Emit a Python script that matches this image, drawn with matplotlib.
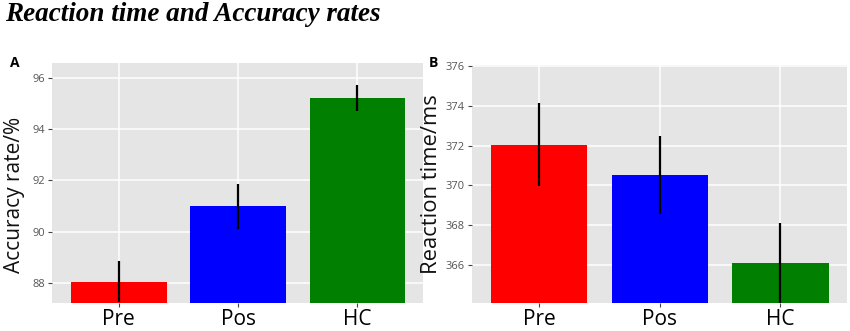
import matplotlib
matplotlib.use("Agg")
import matplotlib.pyplot as plt

groups = ["Pre", "Pos", "HC"]
acc_mean = [88.05, 91.0, 95.2]
acc_err = [0.8, 0.88, 0.51]
rt_mean = [372.05, 370.53, 366.08]
rt_err = [2.1, 1.95, 2.05]
colors = ["#ff0000", "#0000ff", "#007f00"]

plt.rcParams['font.family'] = ['Open Sans', 'DejaVu Sans']

fig = plt.figure(figsize=(8.5, 3.31), dpi=100)
axA = fig.add_axes([0.0612, 0.0846, 0.4364, 0.7251])
axB = fig.add_axes([0.555, 0.0837, 0.441, 0.7199])


def style(ax, ylabel, ylim, yticks):
    ax.set_facecolor("#e5e5e5")
    x = range(len(groups))
    ax.set_xticks(list(x))
    ax.set_xticklabels(groups, fontsize=15, color="black")
    ax.set_yticks(yticks)
    ax.set_yticklabels([str(t) for t in yticks], fontsize=8, color="#555555")
    ax.set_ylim(*ylim)
    ax.set_xlim(-0.56, 2.55)
    ax.set_ylabel(ylabel, fontsize=15, color="#111111", labelpad=3)
    ax.grid(True, color="white", linewidth=1.1)
    ax.set_axisbelow(True)
    for s in ax.spines.values():
        s.set_visible(False)
    ax.tick_params(axis="both", length=3, width=0.8, color="#444444", pad=2)
    ax.tick_params(axis="x", pad=1)


x = list(range(len(groups)))
axA.bar(x, acc_mean, width=0.8, color=colors, zorder=2)
axA.errorbar(x, acc_mean, yerr=acc_err, fmt="none", ecolor="black",
             elinewidth=1.6, capsize=0, zorder=3)
style(axA, "Accuracy rate/%", (87.23, 96.57), [88, 90, 92, 94, 96])
axA.yaxis.set_label_coords(-0.072, 0.45)

axB.bar(x, rt_mean, width=0.8, color=colors, zorder=2)
axB.errorbar(x, rt_mean, yerr=rt_err, fmt="none", ecolor="black",
             elinewidth=1.6, capsize=0, zorder=3)
style(axB, "Reaction time/ms", (364.08, 376.05), [366, 368, 370, 372, 374, 376])
axB.yaxis.label.set_fontsize(15.8)

fig.text(0.006, 0.995, "Reaction time and Accuracy rates", family="Liberation Serif",
         fontsize=19.5, fontweight="bold", fontstyle="italic", va="top", ha="left")
fig.text(0.012, 0.79, "A", fontsize=10, fontweight="bold", va="bottom")
fig.text(0.504, 0.79, "B", fontsize=10, fontweight="bold", va="bottom")

fig.savefig("out.png", dpi=100)
